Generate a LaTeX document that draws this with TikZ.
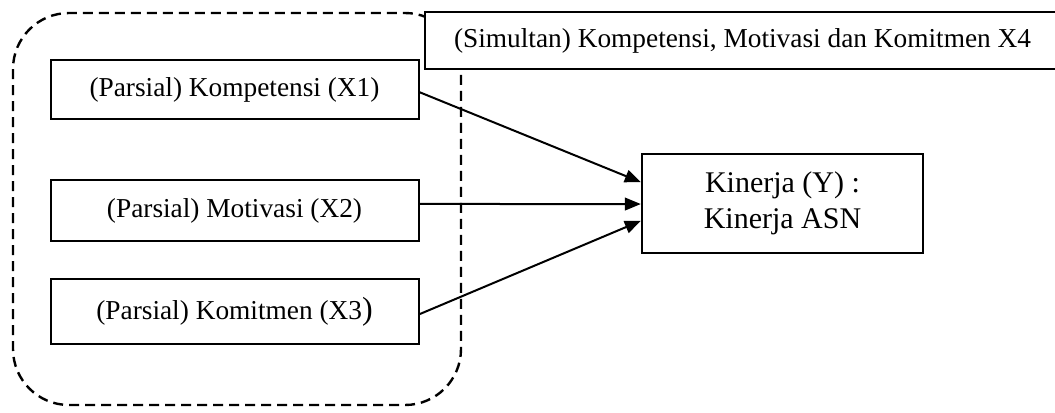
\documentclass[tikz,border=0pt]{standalone}
\usepackage{fontspec}
\setmainfont{Liberation Serif}
\usetikzlibrary{arrows.meta}

\begin{document}
\begin{tikzpicture}[x=0.75pt,y=0.75pt,yscale=-1,xscale=1,
    varbox/.style={draw, line width=1.5pt, fill=white, inner sep=0pt, align=center, font=\fontsize{20.5}{24}\selectfont},
    pengaruh/.style={line width=1.5pt, -{Triangle[length=12pt,width=9.5pt]}}]
    \useasboundingbox (0,0) rectangle (1055,412);
    \clip (0,0) rectangle (1055,412);
    
    %Shape: Rounded Rect (parsial group)
    \draw [line width=1.8pt, dash pattern=on 7.5pt off 4.5pt, rounded corners=42pt] (13,13) rectangle (461,405);
    
    % Text Node
    \node [varbox, minimum width=276pt, minimum height=44pt] (x1) at (234.5,89.5) {(Parsial) Kompetensi (X1)};
    % Text Node
    \node [varbox, minimum width=276pt, minimum height=46pt] (x2) at (234.5,210.5) {(Parsial) Motivasi (X2)};
    % Text Node
    \node [varbox, minimum width=276pt, minimum height=49pt] (x3) at (234.5,311.5) {(Parsial) Komitmen (X3{\fontsize{24}{24}\selectfont)}};
    % Text Node
    \node [varbox, minimum width=477pt, minimum height=43pt] (x4) at (742.5,40.5) {(Simultan) Kompetensi, Motivasi dan Komitmen X4};
    % Text Node
    \node [varbox, minimum width=211pt, minimum height=74pt, font=\fontsize{22.5}{27}\selectfont] (ky) at (782.5,203.5) {Kinerja (Y) :\\Kinerja ASN};
    
    %Straight Lines
    \draw [pengaruh] ([yshift=2pt]x1.east) -- ([yshift=-16pt]ky.west);
    \draw [pengaruh] ([yshift=-4.9pt]x2.east) -- ([yshift=0.4pt]ky.west);
    \draw [pengaruh] ([yshift=2pt]x3.east) -- ([yshift=13pt]ky.west);
    
\end{tikzpicture}
\end{document}
